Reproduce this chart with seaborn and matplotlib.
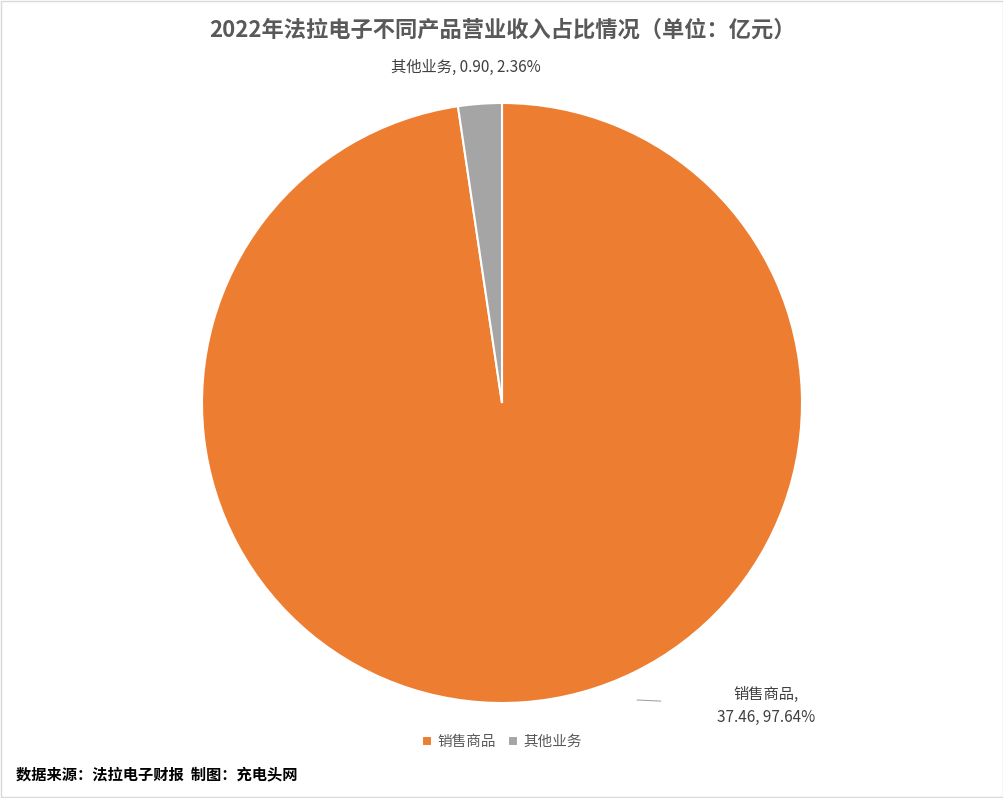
import matplotlib.pyplot as plt
import seaborn as sns
from matplotlib.patches import Rectangle

categories = ["销售商品", "其他业务"]
values = [37.46, 0.90]
shares = ["97.64%", "2.36%"]
colors = ["#ED7D31", "#A5A5A5"]

sns.set_theme(style="white")
plt.rcParams["font.family"] = ["Noto Sans CJK SC", "DejaVu Sans"]

fig = plt.figure(figsize=(10.04, 7.98), dpi=100)
ax = fig.add_axes([202 / 1004, 1 - 703 / 798, 600 / 1004, 600 / 798])
wedges, _ = ax.pie(values, colors=colors, startangle=90, counterclock=False,
                   wedgeprops=dict(edgecolor="white", linewidth=1.5))
ax.set_xlim(-1, 1)
ax.set_ylim(-1, 1)
ax.set_aspect("equal")

# data labels
ax.text(-0.12, 1.09, f"{categories[1]}, {values[1]:.2f}, {shares[1]}",
        ha="center", va="bottom", fontsize=11, color="#404040")
ax.annotate(f"{categories[0]},\n{values[0]:.2f}, {shares[0]}",
            xy=(0.45, -0.99), xytext=(0.88, -1.01), fontsize=11, color="#404040",
            ha="center", va="center", linespacing=1.5,
            arrowprops=dict(arrowstyle="-", color="#A6A6A6", lw=0.8,
                            shrinkA=38, shrinkB=0))

fig.text(0.5, 1 - 30 / 798, "2022年法拉电子不同产品营业收入占比情况（单位：亿元）",
         ha="center", va="center", fontsize=16, fontweight="bold", color="#595959")
fig.legend(wedges, categories, loc="center", bbox_to_anchor=(0.5, 1 - 742 / 798),
           ncol=2, frameon=False, fontsize=10.5, handlelength=0.7, handleheight=0.7,
           columnspacing=0.8, handletextpad=0.4, labelcolor="#595959")
fig.text(16 / 1004, 1 - 774 / 798, "数据来源：法拉电子财报  制图：充电头网",
         ha="left", va="center", fontsize=11, fontweight="bold", color="black")
fig.patches.append(Rectangle((0.001, 0.001), 0.998, 0.998, transform=fig.transFigure,
                             fill=False, edgecolor="#D9D9D9", lw=1))

fig.savefig("out.png", dpi=100)
